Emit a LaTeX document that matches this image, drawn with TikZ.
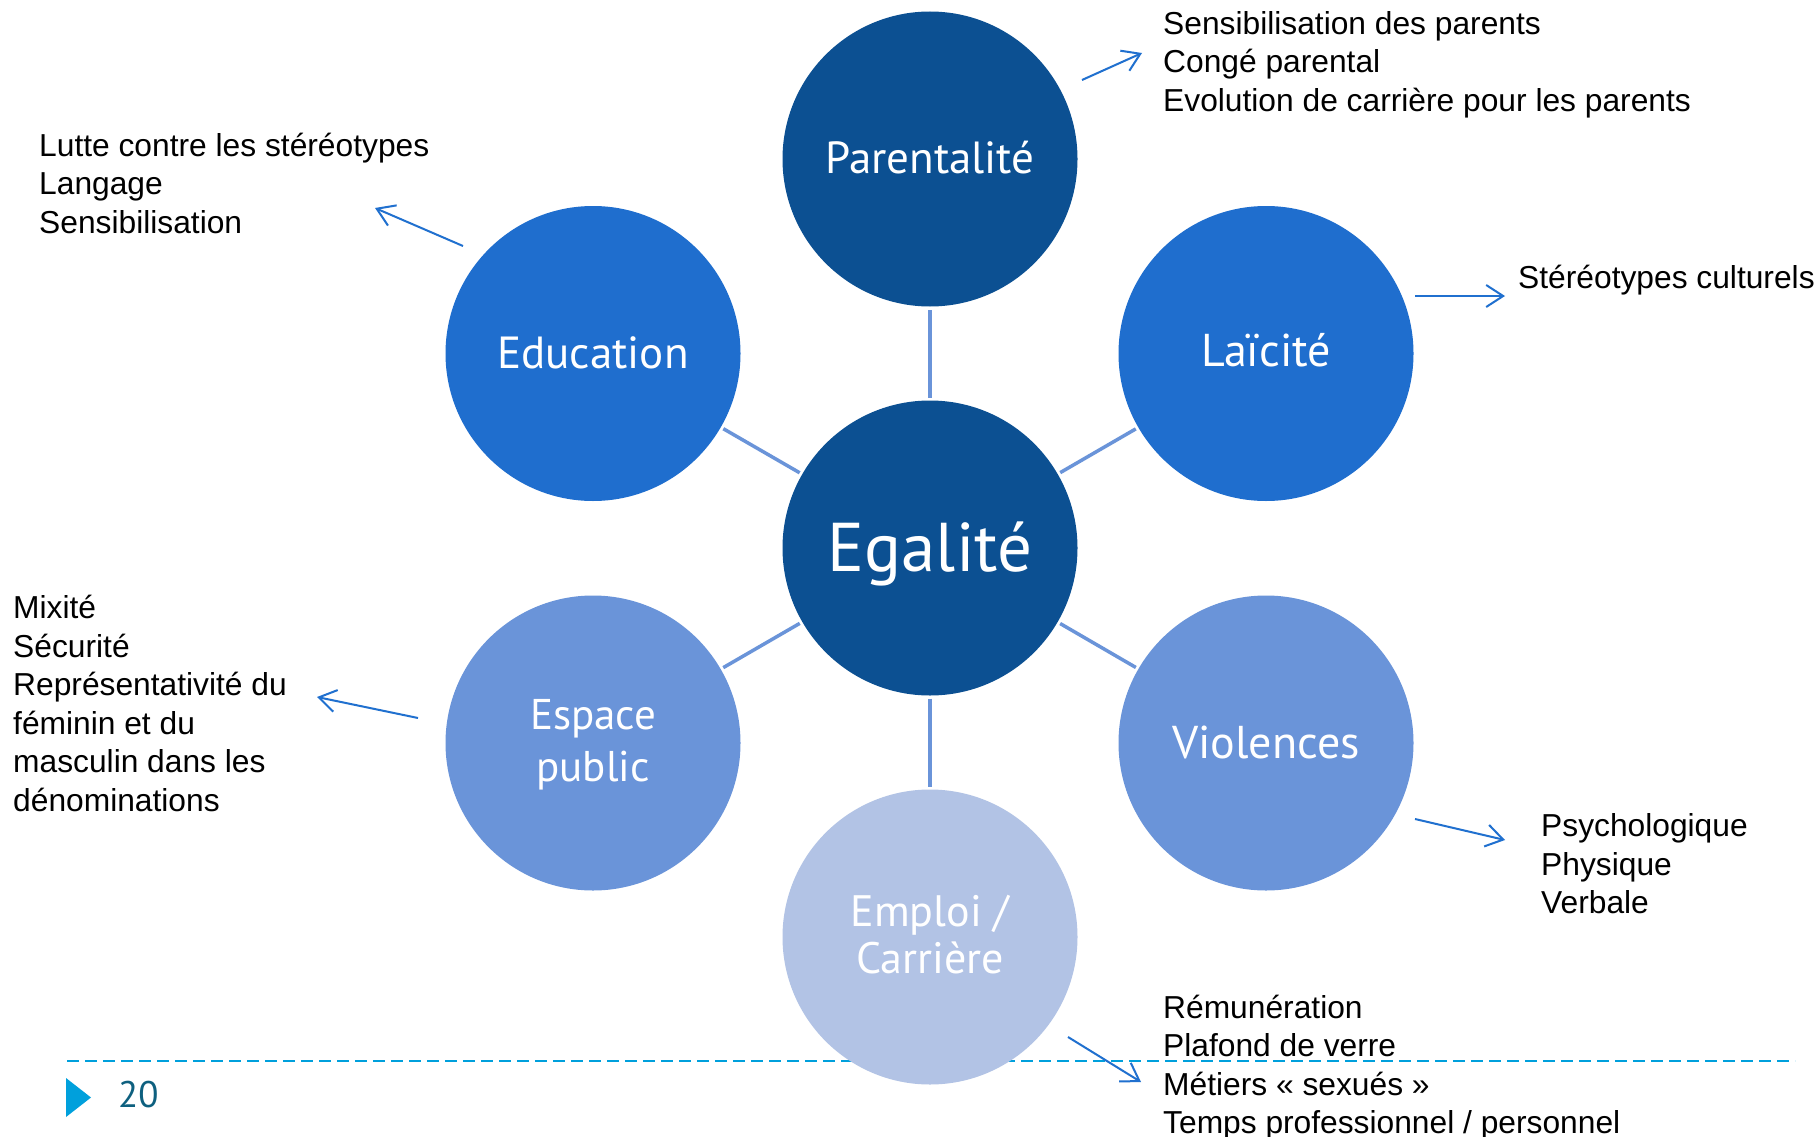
\documentclass[tikz,border=0pt]{standalone}
\usepackage{fontspec}
\setmainfont{Liberation Sans}
\newfontfamily\gillfont{PT Sans}
\usetikzlibrary{arrows.meta}
\definecolor{cdark}{HTML}{0C5092}
\definecolor{cmid}{HTML}{1F6ECE}
\definecolor{clight}{HTML}{6A94D9}
\definecolor{cpale}{HTML}{B2C3E5}
\definecolor{cconn}{HTML}{6A94D9}
\definecolor{carrow}{HTML}{2070CF}
\definecolor{cdash}{HTML}{00A0DC}
\definecolor{cnum}{HTML}{0E607F}
\newcommand\stacklines[2]{\vtop{\baselineskip=#1\lineskiplimit=-200pt\lineskip=0pt #2}}
\newcommand\ctrline[1]{\hbox to 0pt{\hss #1\hss}}
\tikzset{
  circ/.style={circle, minimum size=295pt, inner sep=0pt, outer sep=0pt},
  lbl/.style={text=white, anchor=base, inner sep=0pt, font=\gillfont\fontsize{45}{52}\selectfont},
  conn/.style={draw=cconn, line width=3.5pt, shorten <=3pt, shorten >=3pt},
  arr/.style={draw=carrow, line width=2pt, -{Straight Barb[length=17pt,width=22pt]}},
  lst/.style={anchor=base west, inner sep=0pt, font=\fontsize{31.75}{38.5}\selectfont}
}
\begin{document}
\begin{tikzpicture}[x=1pt,y=-1pt]
\useasboundingbox[fill=white] (0,0) rectangle (1820,1137);
% footer
\draw[cdash, line width=2pt, dash pattern=on 12pt off 6pt] (67,1061) coordinate (dl) -- (1795,1061) coordinate (dr);
\fill[cdash] (66,1078) -- (66,1117) -- (91,1097.5) -- cycle;
\node[anchor=base west, inner sep=0pt, text=cnum, font=\gillfont\fontsize{37}{40}\selectfont] (pnum) at (118,1107) {20};
% circles
\node[circ, fill=cdark] (egal) at (930,548) {};
\node[circ, fill=cdark] (par) at (930,159) {};
\node[circ, fill=cmid] (edu) at (593,353.5) {};
\node[circ, fill=cmid] (lai) at (1266,353.5) {};
\node[circ, fill=clight] (esp) at (593,743) {};
\node[circ, fill=clight] (vio) at (1266,743) {};
\node[circ, fill=cpale] (emp) at (930,937) {};
% connectors
\draw[conn] (egal) -- (par);
\draw[conn] (egal) -- (edu);
\draw[conn] (egal) -- (lai);
\draw[conn] (egal) -- (esp);
\draw[conn] (egal) -- (vio);
\draw[conn] (egal) -- (emp);
% circle labels
\node[lbl, font=\gillfont\fontsize{69}{80}\selectfont] (tegal) at (930,571) {Egalité};
\node[lbl] (tpar) at (930,173) {Parentalité};
\node[lbl] (tedu) at (593,368) {Education};
\node[lbl, font=\gillfont\fontsize{46}{52}\selectfont] (tlai) at (1266,366) {Laïcité};
\node[lbl, font=\gillfont\fontsize{46}{52}\selectfont] (tvio) at (1266,758) {Violences};
\node[lbl, font=\gillfont\fontsize{43}{52}\selectfont] (tesp) at (593,729) {\stacklines{52pt}{\ctrline{Espace}\ctrline{public}}};
\node[lbl, font=\gillfont\fontsize{44}{47}\selectfont] (temp) at (930,926) {\stacklines{47pt}{\ctrline{Emploi /}\ctrline{Carrière}}};
% lists
\node[lst] (lpar) at (1163,34.5) {\stacklines{38.5pt}{\hbox{Sensibilisation des parents}\hbox{Congé parental}\hbox{Evolution de carrière pour les parents}}};
\node[lst] (ledu) at (39,156.5) {\stacklines{38.5pt}{\hbox{Lutte contre les stéréotypes}\hbox{Langage}\hbox{Sensibilisation}}};
\node[lst] (llai) at (1518,288.5) {Stéréotypes culturels};
\node[lst] (lesp) at (13,618.5) {\stacklines{38.5pt}{\hbox{Mixité}\hbox{Sécurité}\hbox{Représentativité du}\hbox{féminin et du}\hbox{masculin dans les}\hbox{dénominations}}};
\node[lst] (lvio) at (1541,836.5) {\stacklines{38.5pt}{\hbox{Psychologique}\hbox{Physique}\hbox{Verbale}}};
\node[lst] (lemp) at (1163,1018) {\stacklines{38.5pt}{\hbox{Rémunération}\hbox{Plafond de verre}\hbox{Métiers « sexués »}\hbox{Temps professionnel / personnel}}};
% arrows
\coordinate (a1s) at (1082,80);   \coordinate (a1e) at (1142,53);
\coordinate (a2s) at (463,246);   \coordinate (a2e) at (375,208);
\coordinate (a3s) at (1415,296);  \coordinate (a3e) at (1505,296);
\coordinate (a4s) at (418,718);   \coordinate (a4e) at (317,697);
\coordinate (a5s) at (1415,819);  \coordinate (a5e) at (1505,840);
\coordinate (a6s) at (1068,1037); \coordinate (a6e) at (1141,1082);
\draw[arr] (a1s) -- (a1e);
\draw[arr] (a2s) -- (a2e);
\draw[arr] (a3s) -- (a3e);
\draw[arr] (a4s) -- (a4e);
\draw[arr] (a5s) -- (a5e);
\draw[arr] (a6s) -- (a6e);
\end{tikzpicture}
\end{document}
